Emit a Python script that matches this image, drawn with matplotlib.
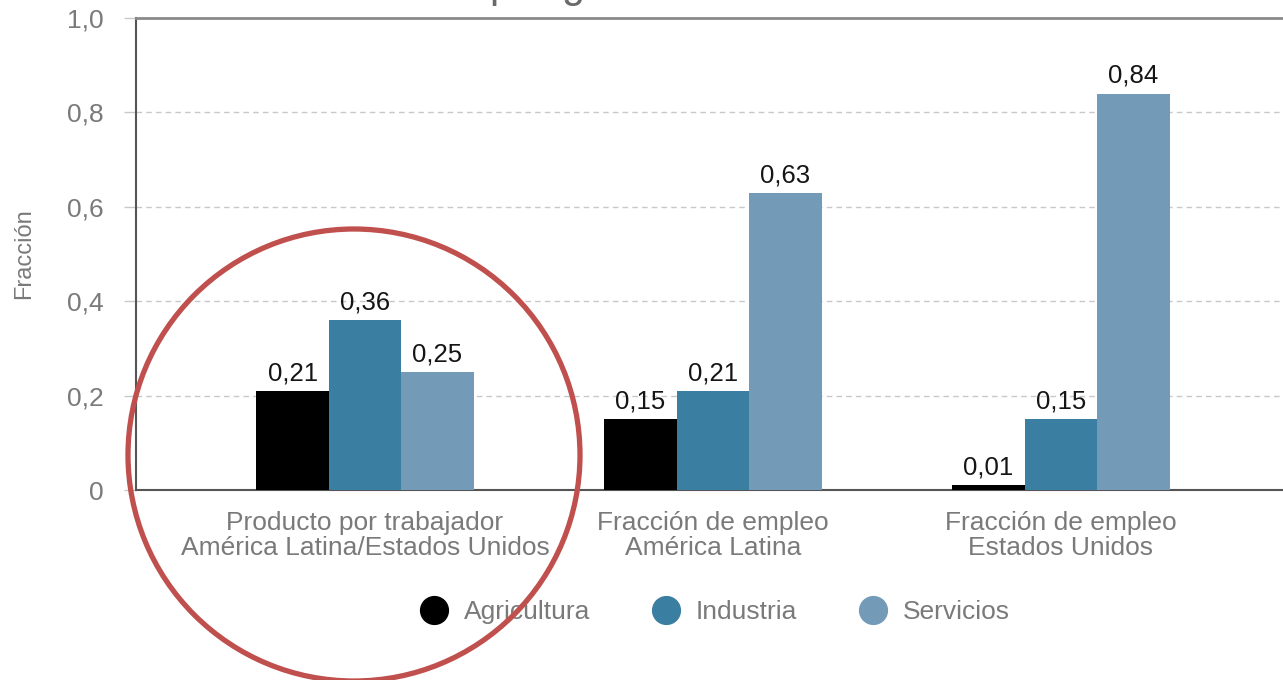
import matplotlib
matplotlib.use("Agg")
import numpy as np
import matplotlib.pyplot as plt
import matplotlib.lines as mlines
import matplotlib.patches as mpatches

plt.rcParams["font.family"] = ["Liberation Sans", "DejaVu Sans"]

categories = [
    "Producto por trabajador\nAmérica Latina/Estados Unidos",
    "Fracción de empleo\nAmérica Latina",
    "Fracción de empleo\nEstados Unidos",
]
series = ["Agricultura", "Industria", "Servicios"]
agricultura = [0.21, 0.15, 0.01]
industria = [0.36, 0.21, 0.15]
servicios = [0.25, 0.63, 0.84]
yticks = [0, 0.2, 0.4, 0.6, 0.8, 1.0]

colors = ["#000000", "#3a7ea1", "#739bb8"]
gray_text = "#7a7a7a"

W, H = 1283, 680
fig = plt.figure(figsize=(W / 100, H / 100), dpi=100)
ax = fig.add_axes([136 / W, 1 - 490 / H, 1 - 136 / W, (490 - 18) / H])

x = np.arange(len(categories))
bar_width = 0.208
for i, (name, values) in enumerate(zip(series, [agricultura, industria, servicios])):
    pos = x + (i - 1) * bar_width
    bars = ax.bar(pos, values, bar_width, color=colors[i], zorder=3, label=name)
    for bar, v in zip(bars, values):
        ax.annotate(
            f"{v:.2f}".replace(".", ","),
            (bar.get_x() + bar.get_width() / 2, bar.get_height()),
            xytext=(0, 4),
            textcoords="offset points",
            ha="center",
            va="bottom",
            fontsize=18.5,
            color="#151515",
        )

ax.set_xlim(-0.658, 2.638)
ax.set_ylim(0, 1.0)
ax.set_yticks(yticks)
ax.set_yticklabels(["0" if t == 0 else f"{t:.1f}".replace(".", ",") for t in yticks])
ax.set_xticks(x)
ax.set_xticklabels(categories, fontsize=19, color=gray_text, linespacing=1.07)
ax.tick_params(axis="x", length=0, pad=15)
ax.tick_params(axis="y", length=9, width=1, color="#c8c8c8", labelsize=19,
               labelcolor=gray_text, pad=14)
ax.yaxis.grid(True, linestyle=(0, (4, 3)), color="#c8c8c8", linewidth=1, zorder=0)

ax.spines["right"].set_visible(False)
ax.spines["top"].set_color("#8a8a8a")
ax.spines["top"].set_linewidth(2)
for s in ["left", "bottom"]:
    ax.spines[s].set_color("#555555")
    ax.spines[s].set_linewidth(1.5)

ax.set_ylabel("Fracción", fontsize=17, color=gray_text)
ax.yaxis.set_label_coords((35 - 136) / (W - 136), 0.5)

# title sits above the top edge, only its descenders show
fig.text(490 / W, 1 + 3 / H, "Productividad relativa ", ha="right", va="baseline",
         fontsize=30, color="#6a6a6a")
fig.text(490 / W, 1 + 3 / H, "por gran sector", ha="left", va="baseline",
         fontsize=30, color="#6a6a6a")

handles = [
    mlines.Line2D([], [], linestyle="none", marker="o", markersize=20,
                  color=c, label=s)
    for c, s in zip(colors, series)
]
leg = fig.legend(handles=handles, loc="center", bbox_to_anchor=(714 / W, 1 - 612 / H),
                 ncol=3, frameon=False, fontsize=19, handletextpad=0.5,
                 columnspacing=2.3, handlelength=1.2)
for t in leg.get_texts():
    t.set_color(gray_text)

# red circle highlighting the first group
circle = mpatches.Ellipse((354 / W, 1 - 455 / H), 452 / W, 452 / H,
                          transform=fig.transFigure, fill=False,
                          edgecolor="#c0504d", linewidth=3.8, zorder=10)
fig.patches.append(circle)

fig.savefig("out.png", dpi=100)
